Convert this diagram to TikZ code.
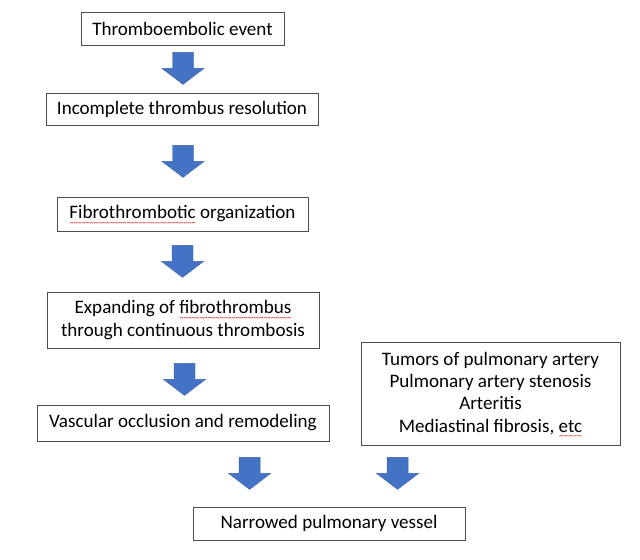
\documentclass[tikz,border=0pt]{standalone}
\usepackage{fontspec}
\setmainfont{Carlito}
\usetikzlibrary{calc}
\definecolor{arrowblue}{HTML}{4472C4}
\definecolor{arrowedge}{HTML}{3A64B0}
\newcommand\redwave[1]{\setbox0\hbox{#1}\rlap{\raisebox{-4.6pt}[0pt][0pt]{\textcolor{red!85!black}{\hbox to \wd0{\xleaders\hbox{\fontsize{6}{6}\selectfont\textasciitilde}\hfil}}}}#1}
\tikzset{
  stepbox/.style={draw=black!70, line width=0.6pt, fill=white, inner sep=0pt, align=center, font=\fontsize{14.3}{16.6}\selectfont, text=black},
  blockarrow/.pic={\fill[arrowblue, draw=arrowedge, line width=0.3pt] (-10.5,0) -- (-10.5,16) -- (-21,16) -- (0,32) -- (21,16) -- (10.5,16) -- (10.5,0) -- cycle;}
}
\begin{document}
\begin{tikzpicture}[x=0.75pt,y=-0.75pt]
\useasboundingbox[fill=white] (0,0) rectangle (640,560);
\node[stepbox, minimum width=152.25pt, minimum height=24.75pt] (b1) at (182.5,28.5) {Thromboembolic event};
\node[stepbox, minimum width=204pt, minimum height=24pt] (b2) at (182,109) {Incomplete thrombus resolution};
\node[stepbox, minimum width=188.25pt, minimum height=25.5pt] (b3) at (182.5,214) {\redwave{Fibrothrombotic} organization};
\node[stepbox, minimum width=204pt, minimum height=42pt] (b4) at (183,320) {Expanding of \redwave{fibrothrombus}\\through continuous thrombosis};
\node[stepbox, minimum width=219pt, minimum height=27pt] (b5) at (183,423) {Vascular occlusion and remodeling};
\node[stepbox, minimum width=194.25pt, minimum height=77.25pt] (b6) at (490.5,393.5) {Tumors of pulmonary artery\\Pulmonary artery stenosis\\Arteritis\\Mediastinal fibrosis, \redwave{etc}};
\node[stepbox, minimum width=204pt, minimum height=24.75pt] (b7) at (329,523.5) {Narrowed pulmonary vessel};
\pic at ($(b1.south)+(0.5,7)$) {blockarrow};
\pic at ($(b2.south)+(1,20)$) {blockarrow};
\pic at ($(b3.south)+(0,14)$) {blockarrow};
\pic at ($(b4.south)+(1.5,15)$) {blockarrow};
\pic at ($(b5.south west)+(213,16)$) {blockarrow};
\pic at ($(b6.south west)+(37,12)$) {blockarrow};
\end{tikzpicture}
\end{document}
